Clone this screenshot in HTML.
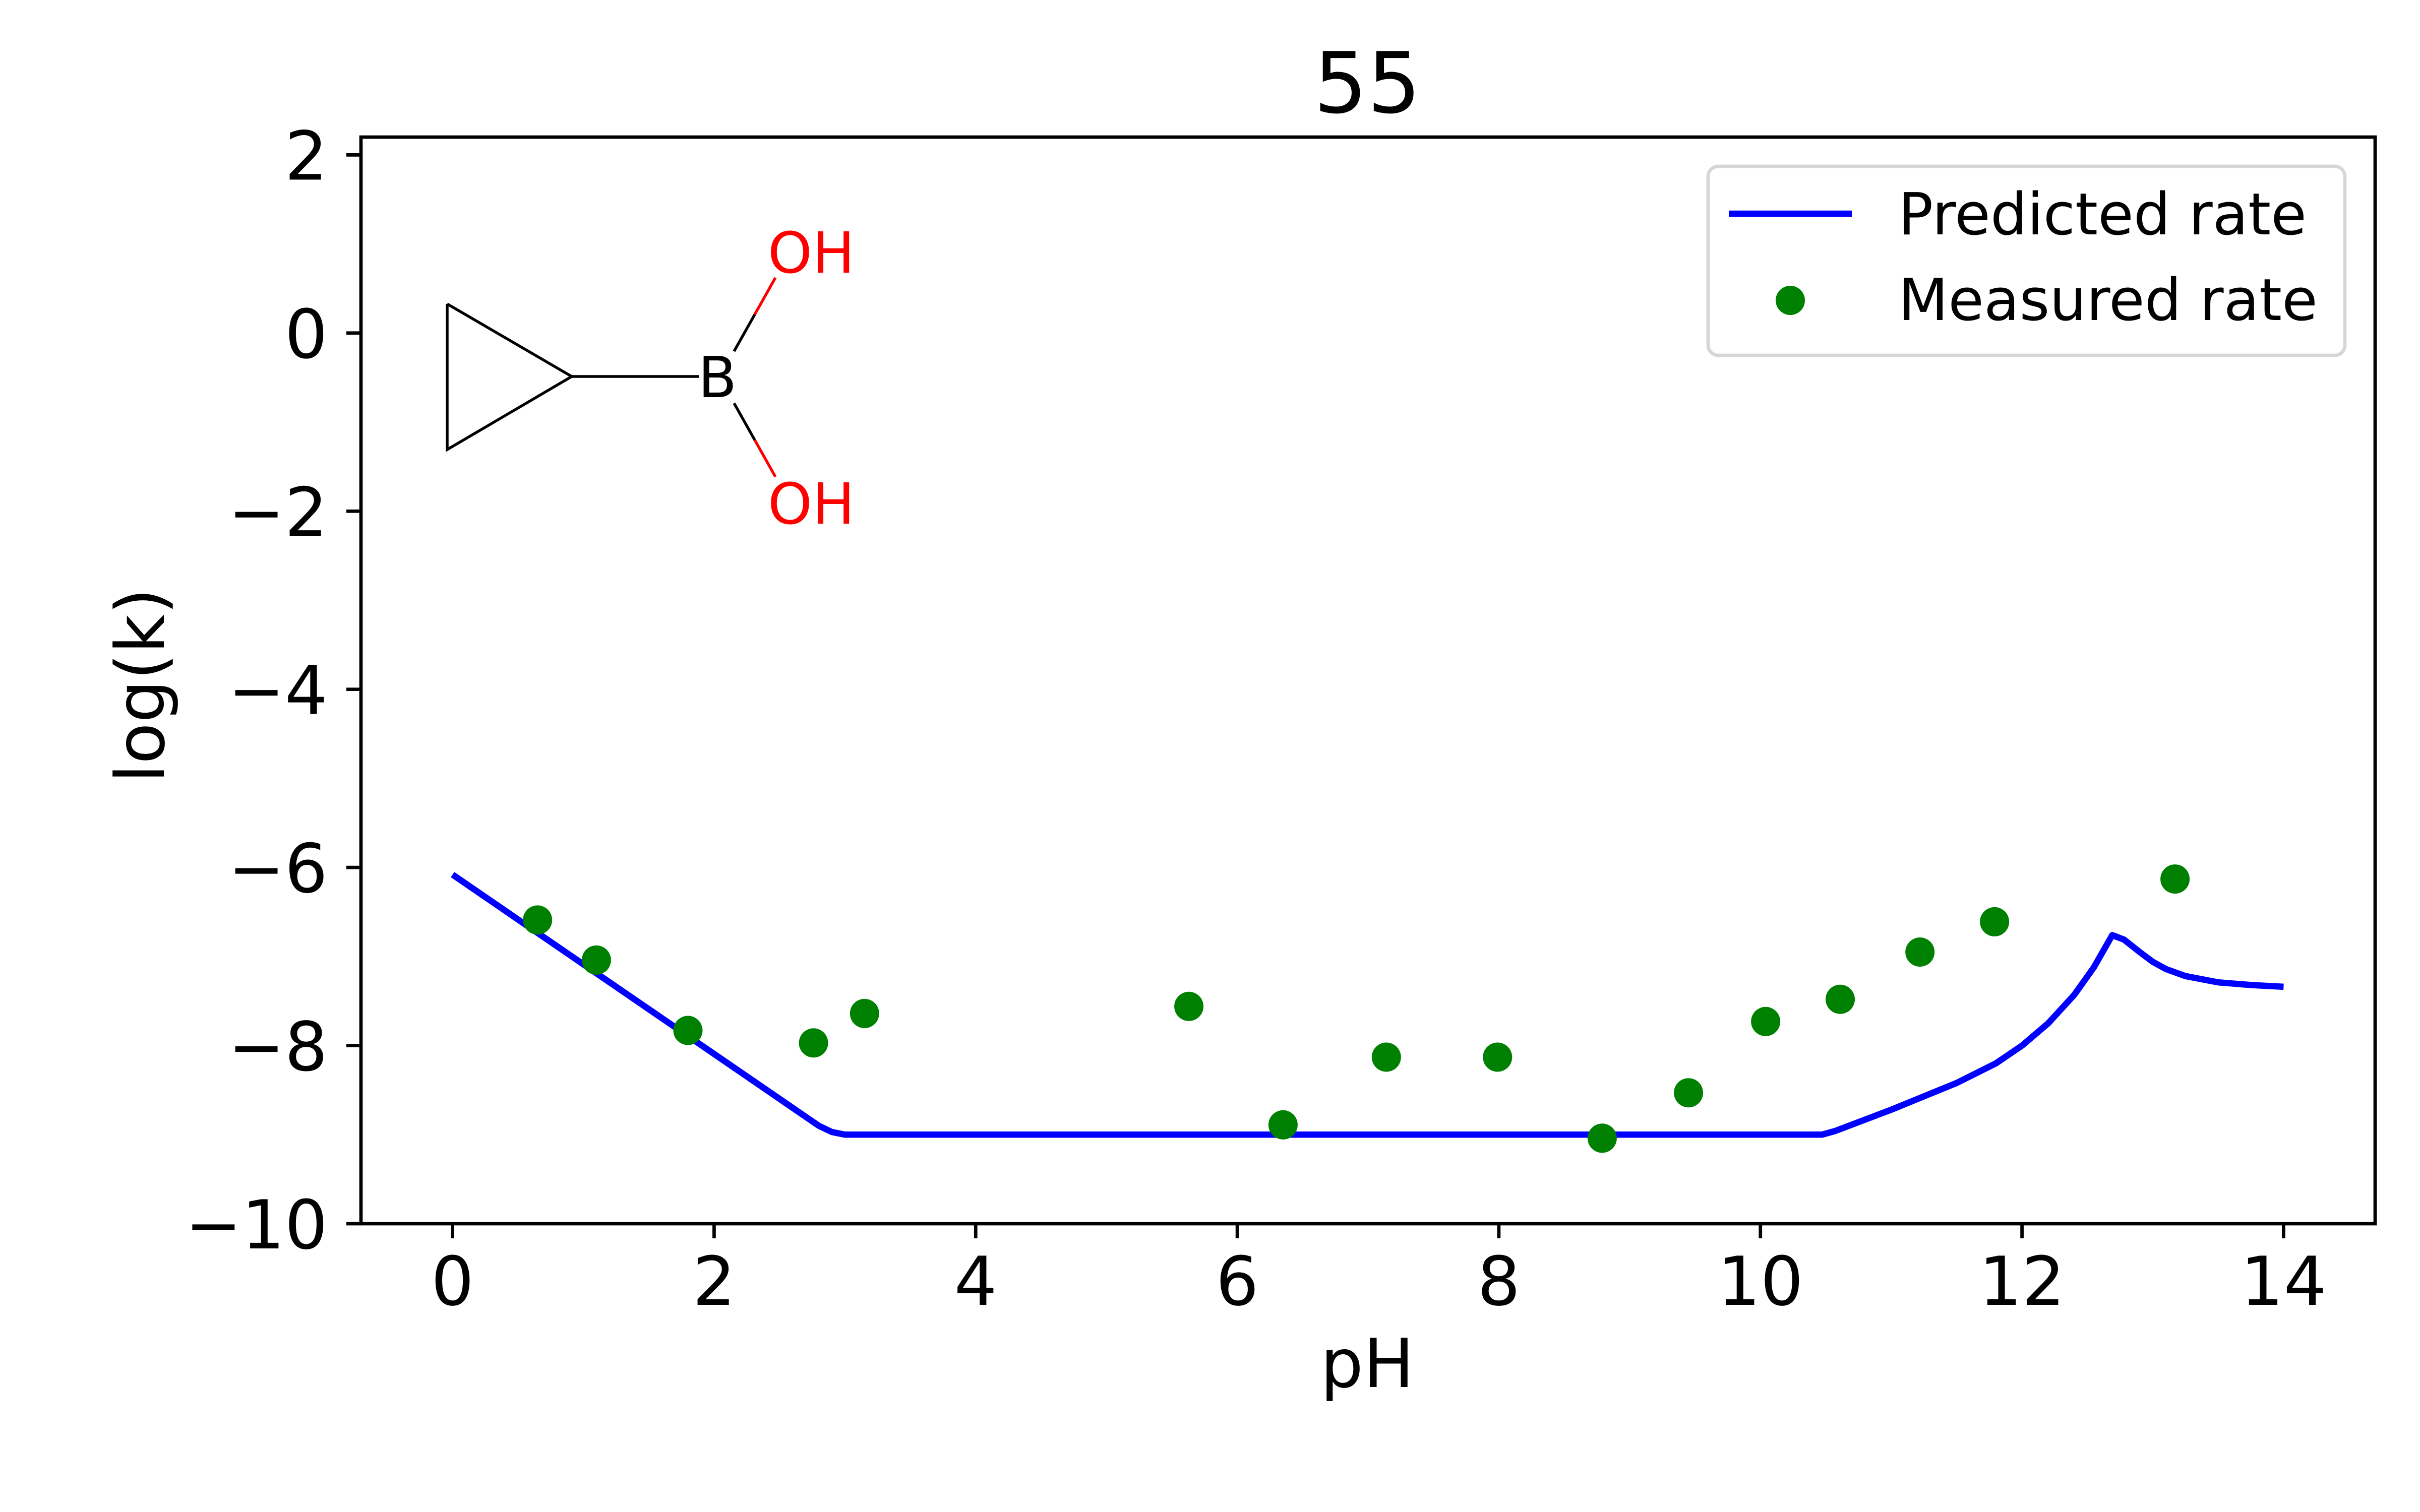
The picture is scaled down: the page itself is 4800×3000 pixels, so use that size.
<!DOCTYPE html>
<html><head><meta charset="utf-8"><style>
html,body{margin:0;padding:0;background:#fff;}
svg{display:block;font-family:"DejaVu Sans","Liberation Sans",sans-serif;}
</style></head><body>
<svg id="chart" width="4800" height="3000" viewBox="0 0 4800 3000" xmlns="http://www.w3.org/2000/svg">
<rect x="0" y="0" width="4800" height="3000" fill="#fff"/>
<text x="2712" y="223" font-size="167" text-anchor="middle">55</text>
<g id="plot"></g>
<g stroke-width="5.5" fill="none">
<polyline points="887,603 1134,747 887,892 887,603" stroke="#000"/>
<line x1="1134" y1="747" x2="1386" y2="747" stroke="#000"/>
<line x1="1456" y1="697" x2="1497" y2="624" stroke="#000"/>
<line x1="1497" y1="624" x2="1538" y2="551" stroke="#f00"/>
<line x1="1456" y1="800" x2="1497" y2="873" stroke="#000"/>
<line x1="1497" y1="873" x2="1538" y2="946" stroke="#f00"/>
</g>
<text x="1423" y="788" font-size="112" text-anchor="middle" fill="#000">B</text>
<text x="1609" y="541" font-size="112" text-anchor="middle" fill="#f00">OH</text>
<text x="1609" y="1039" font-size="112" text-anchor="middle" fill="#f00">OH</text>
<g>
<rect x="3388" y="330" width="1263" height="375" rx="20" ry="20" fill="#fff" fill-opacity="0.8" stroke="#d6d6d6" stroke-width="6.7"/>
<line x1="3429" y1="424" x2="3673" y2="424" stroke="#0000ff" stroke-width="12.5"/>
<text x="3765" y="465" font-size="115">Predicted rate</text>
<circle cx="3551" cy="596" r="29" fill="#008000"/>
<text x="3765" y="635" font-size="115">Measured rate</text>
</g>
<text x="2712" y="2752" font-size="134" text-anchor="middle">pH</text>
<text x="325" y="1360" font-size="134" text-anchor="middle" transform="rotate(-90 325 1360)">log(k)</text>
</svg>
<script>
const xTicks = [0, 2, 4, 6, 8, 10, 12, 14];
const yTicks = [2, 0, -2, -4, -6, -8, -10];
const predX = [0, 2.8, 2.9, 3.0, 10.47, 10.57, 11.0, 11.5, 11.8, 12.0, 12.2, 12.4, 12.55, 12.69, 12.78, 12.9, 13.0, 13.1, 13.25, 13.5, 13.75, 14.0];
const predY = [-6.08, -8.9, -8.97, -9.0, -9.0, -8.96, -8.72, -8.42, -8.2, -8.0, -7.75, -7.43, -7.12, -6.76, -6.81, -6.95, -7.06, -7.14, -7.22, -7.29, -7.32, -7.34];
const measX = [0.65, 1.10, 1.80, 2.76, 3.15, 5.63, 6.35, 7.14, 7.99, 8.79, 9.45, 10.04, 10.61, 11.22, 11.79, 13.17];
const measY = [-6.59, -7.04, -7.83, -7.97, -7.64, -7.56, -8.89, -8.13, -8.13, -9.04, -8.53, -7.73, -7.48, -6.95, -6.61, -6.13];

const NS = 'http://www.w3.org/2000/svg';
const L = 716, R = 4711, T = 272, B = 2428;
const xMin = -0.7, xMax = 14.7, yMin = -10, yMax = 2.2;
function sx(v){ return L + (v - xMin) / (xMax - xMin) * (R - L); }
function sy(v){ return B - (v - yMin) / (yMax - yMin) * (B - T); }
const plot = document.getElementById('plot');
function mk(tag, attrs){ const e = document.createElementNS(NS, tag); for (const k in attrs) e.setAttribute(k, attrs[k]); plot.appendChild(e); return e; }

let d = '';
predX.forEach((x, i) => { d += (i ? 'L' : 'M') + sx(x).toFixed(1) + ',' + sy(predY[i]).toFixed(1); });
const path = mk('path', {d: d, fill: 'none', stroke: '#0000ff', 'stroke-width': 12.5, 'stroke-linejoin': 'round'});



measX.forEach((x, i) => {
  const c = mk('circle', {cx: sx(x).toFixed(1), cy: sy(measY[i]).toFixed(1), r: 29, fill: '#008000'});
  
  
});

const frame = mk('rect', {x: L, y: T, width: R - L, height: B - T, fill: 'none', stroke: '#000', 'stroke-width': 6.7});



xTicks.forEach(v => {
  const x = sx(v);
  const t = mk('line', {x1: x, y1: B, x2: x, y2: B + 29, stroke: '#000', 'stroke-width': 6.7});
  
  
  const lb = mk('text', {x: x, y: 2589, 'font-size': 134, 'text-anchor': 'middle'});
  lb.textContent = String(v);
  
  
});
yTicks.forEach(v => {
  const y = sy(v);
  const t = mk('line', {x1: L - 29, y1: y, x2: L, y2: y, stroke: '#000', 'stroke-width': 6.7});
  
  
  const lb = mk('text', {x: 650, y: y + 49, 'font-size': 134, 'text-anchor': 'end'});
  lb.textContent = v < 0 ? '\u2212' + Math.abs(v) : String(v);
  
  
});
</script>
</body></html>
